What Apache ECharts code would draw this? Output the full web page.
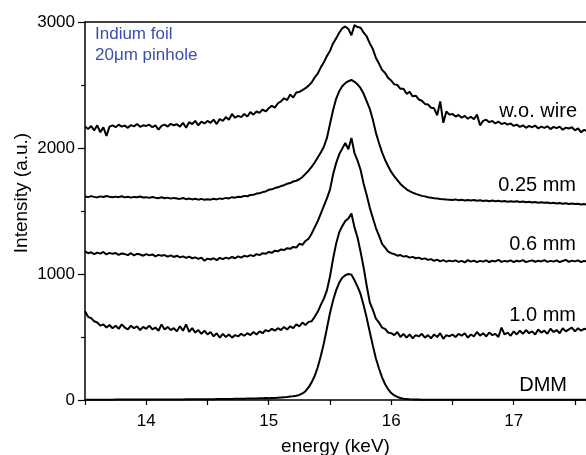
<!DOCTYPE html>
<html><head><meta charset="utf-8">
<script src="https://cdn.jsdelivr.net/npm/echarts@6/dist/echarts.min.js"></script>
<style>html,body{margin:0;padding:0;background:#fff}#c{width:586px;height:455px}</style>
</head><body><div id="c"></div>
<script>
const energy = [
13.5,13.525,13.55,13.575,13.6,13.625,13.65,13.675,13.7,13.725,
13.75,13.775,13.8,13.825,13.85,13.875,13.9,13.925,13.95,13.975,
14,14.025,14.05,14.075,14.1,14.125,14.15,14.175,14.2,14.225,
14.25,14.275,14.3,14.325,14.35,14.375,14.4,14.425,14.45,14.475,
14.5,14.525,14.55,14.575,14.6,14.625,14.65,14.675,14.7,14.725,
14.75,14.775,14.8,14.825,14.85,14.875,14.9,14.925,14.95,14.975,
15,15.025,15.05,15.075,15.1,15.125,15.15,15.175,15.2,15.225,
15.25,15.275,15.3,15.325,15.35,15.375,15.4,15.425,15.45,15.475,
15.5,15.525,15.55,15.575,15.6,15.625,15.65,15.675,15.7,15.725,
15.75,15.775,15.8,15.825,15.85,15.875,15.9,15.925,15.95,15.975,
16,16.025,16.05,16.075,16.1,16.125,16.15,16.175,16.2,16.225,
16.25,16.275,16.3,16.325,16.35,16.375,16.4,16.425,16.45,16.475,
16.5,16.525,16.55,16.575,16.6,16.625,16.65,16.675,16.7,16.725,
16.75,16.775,16.8,16.825,16.85,16.875,16.9,16.925,16.95,16.975,
17,17.025,17.05,17.075,17.1,17.125,17.15,17.175,17.2,17.225,
17.25,17.275,17.3,17.325,17.35,17.375,17.4,17.425,17.45,17.475,
17.5,17.525,17.55,17.575,17.6];

const woWire = [
2170,2150,2175,2140,2180,2125,2165,2095,2170,2180,
2165,2185,2170,2178,2160,2182,2172,2190,2168,2180,
2175,2185,2165,2180,2145,2175,2185,2170,2192,2180,
2188,2170,2200,2160,2205,2190,2215,2180,2210,2195,
2215,2200,2225,2190,2230,2215,2245,2225,2270,2240,
2255,2245,2270,2250,2285,2265,2290,2280,2305,2290,
2315,2335,2320,2355,2370,2395,2380,2425,2400,2440,
2445,2460,2475,2495,2520,2560,2590,2640,2680,2730,
2770,2830,2870,2915,2950,2965,2945,2895,2975,2960,
2955,2915,2885,2830,2785,2715,2670,2620,2595,2555,
2535,2505,2500,2470,2470,2430,2445,2410,2415,2385,
2375,2350,2345,2320,2315,2260,2370,2200,2290,2265,
2270,2250,2262,2240,2255,2232,2248,2228,2265,2180,
2215,2225,2205,2215,2195,2210,2190,2200,2185,2195,
2175,2185,2168,2180,2160,2175,2165,2178,2155,2170,
2160,2172,2150,2168,2158,2170,2145,2162,2155,2165,
2140,2155,2125,2145,2130];

const mm025 = [
1615,1610,1618,1612,1608,1616,1611,1619,1613,1609,
1614,1610,1617,1608,1613,1606,1612,1609,1615,1607,
1610,1604,1611,1606,1602,1609,1601,1606,1598,1604,
1600,1596,1603,1594,1599,1592,1597,1590,1596,1589,
1594,1590,1597,1592,1600,1596,1604,1600,1610,1606,
1613,1611,1620,1617,1627,1628,1638,1640,1650,1655,
1668,1672,1682,1688,1698,1705,1716,1722,1734,1740,
1752,1770,1795,1820,1850,1885,1925,1965,2010,2080,
2190,2300,2390,2450,2490,2515,2530,2540,2525,2505,
2475,2430,2370,2310,2225,2120,2040,1965,1905,1855,
1810,1775,1745,1715,1692,1672,1658,1646,1636,1628,
1620,1616,1609,1606,1601,1599,1595,1594,1591,1590,
1588,1592,1585,1589,1583,1587,1584,1588,1582,1586,
1580,1584,1578,1583,1577,1581,1576,1580,1574,1578,
1573,1577,1571,1575,1569,1573,1567,1572,1566,1570,
1565,1568,1562,1566,1560,1564,1558,1562,1556,1560,
1555,1558,1552,1555,1550];

const mm06 = [
1180,1165,1172,1158,1170,1162,1175,1155,1168,1160,
1166,1152,1163,1158,1150,1165,1148,1160,1155,1145,
1158,1148,1155,1140,1152,1145,1150,1138,1148,1135,
1145,1132,1140,1128,1138,1125,1132,1120,1130,1105,
1122,1115,1125,1110,1128,1118,1130,1122,1135,1125,
1140,1130,1145,1138,1150,1142,1158,1150,1165,1160,
1175,1168,1185,1180,1195,1190,1205,1200,1215,1210,
1240,1232,1262,1280,1320,1370,1420,1480,1540,1600,
1670,1790,1880,1950,1995,2040,1990,2080,1960,1900,
1825,1715,1625,1525,1445,1365,1305,1240,1210,1178,
1165,1158,1145,1150,1138,1142,1130,1136,1125,1130,
1118,1124,1112,1118,1105,1114,1100,1110,1098,1106,
1100,1108,1096,1104,1092,1110,1098,1106,1094,1104,
1098,1108,1095,1105,1100,1112,1096,1104,1099,1108,
1095,1105,1100,1110,1094,1102,1108,1097,1105,1100,
1110,1096,1104,1098,1108,1095,1103,1112,1097,1106,
1100,1108,1095,1104,1100];

const mm10 = [
705,660,650,625,615,590,600,575,595,570,
590,565,600,575,560,590,570,585,555,580,
565,590,560,575,550,600,560,580,555,570,
545,585,550,600,540,570,535,555,525,550,
520,540,505,530,495,525,500,520,495,515,
505,525,510,530,515,540,520,545,530,555,
545,565,550,570,555,580,560,585,570,600,
585,615,595,620,625,660,700,755,805,870,
980,1120,1240,1330,1380,1420,1440,1480,1370,1290,
1175,1050,905,775,715,645,615,575,565,535,
530,515,540,500,525,495,520,490,515,505,
525,495,515,490,520,500,530,485,515,505,
520,500,525,510,530,495,520,505,540,510,
530,505,535,515,525,500,575,520,535,510,
545,520,550,525,555,530,545,520,560,535,
550,525,565,540,555,530,570,545,560,575,
545,570,550,565,560];

const dmm = [
2,2,2,2,2,2,2,2,2,2,
3,3,3,3,3,3,3,3,3,3,
3,3,3,3,4,4,4,4,4,4,
4,4,4,5,5,5,5,5,5,6,
6,6,6,7,7,7,8,8,8,9,
9,10,10,11,11,12,12,13,14,15,
14,15,16,18,20,22,24,27,30,34,
40,52,70,100,140,190,260,350,450,570,
690,790,870,930,970,990,1000,995,950,900,
840,750,650,540,430,330,250,180,125,85,
55,37,24,16,10,7,5,4,3,3,
2,2,2,2,2,2,2,2,2,2,
2,2,2,2,2,2,2,2,2,2,
1,1,1,1,1,1,1,1,1,1,
1,1,1,1,1,1,1,1,1,1,
1,1,1,1,1,1,1,1,1,1,
1,1,1,1,1];

const seriesNames = ['w.o. wire','0.25 mm','0.6 mm','1.0 mm','DMM'];
const seriesValues = [woWire, mm025, mm06, mm10, dmm];
const xTitle = 'energy (keV)';
const yTitle = 'Intensity (a.u.)';
const noteLines = ['Indium foil', '20\u03bcm pinhole'];

const FONT = '"Liberation Sans", Arial, Helvetica, sans-serif';
const chart = echarts.init(document.getElementById('c'), null, {renderer: 'canvas'});

const labelPos = [[577,111],[576,185],[576,244],[576,315],[567,385]];

const option = {
  animation: false,
  backgroundColor: '#fff',
  textStyle: {fontFamily: FONT},
  grid: {left: 85, right: 0, top: 22, bottom: 55, containLabel: false, outerBoundsMode: 'none'},
  xAxis: [{
    type: 'value', min: 13.5, max: 17.59, interval: 0.5,
    axisLine: {show: true, lineStyle: {color: '#000', width: 1.5}},
    axisTick: {show: true, length: 5, lineStyle: {color: '#000', width: 1.2}},
    axisLabel: {
      color: '#000', fontSize: 17, fontFamily: FONT, margin: 13,
      formatter: v => (Math.abs(v - Math.round(v)) < 1e-6 ? String(Math.round(v)) : '')
    },
    splitLine: {show: false},
    name: xTitle, nameLocation: 'middle', nameGap: 37,
    nameTextStyle: {color: '#000', fontSize: 19, fontFamily: FONT}
  }, {
    type: 'value', position: 'top', min: 13.5, max: 17.59,
    axisLine: {show: true, lineStyle: {color: '#000', width: 1.5}},
    axisTick: {show: false}, axisLabel: {show: false}, splitLine: {show: false}
  }],
  yAxis: {
    type: 'value', min: 0, max: 3000, interval: 1000,
    axisLine: {show: true, lineStyle: {color: '#000', width: 1.5}},
    axisTick: {show: true, length: 7, lineStyle: {color: '#000', width: 1.2}},
    minorTick: {show: true, splitNumber: 2, length: 4, lineStyle: {color: '#000', width: 1.2}},
    axisLabel: {color: '#000', fontSize: 17, fontFamily: FONT, margin: 10, formatter: v => String(v)},
    splitLine: {show: false}, minorSplitLine: {show: false}
  },
  series: seriesValues.map((vals, k) => ({
    name: seriesNames[k], type: 'line', xAxisIndex: 0,
    data: energy.map((e, i) => [e, vals[i]]),
    showSymbol: false, symbol: 'none', smooth: false,
    lineStyle: {color: '#000', width: 2}
  })),
  graphic: [
    ...seriesNames.map((n, k) => ({
      type: 'text', x: labelPos[k][0], y: labelPos[k][1],
      style: {text: n, fill: '#000', font: '20px ' + FONT, textAlign: 'right', textVerticalAlign: 'middle'}
    })),
    {type: 'text', x: 95, y: 34, style: {text: noteLines[0], fill: '#3c4fa8', font: '17px ' + FONT, textAlign: 'left', textVerticalAlign: 'middle'}},
    {type: 'text', x: 95, y: 55, style: {text: noteLines[1], fill: '#3c4fa8', font: '17px ' + FONT, textAlign: 'left', textVerticalAlign: 'middle'}},
    {type: 'text', x: 22, y: 193, rotation: Math.PI / 2,
     style: {text: yTitle, fill: '#000', font: '19px ' + FONT, textAlign: 'center', textVerticalAlign: 'middle'}}
  ]
};
chart.setOption(option);
</script>
</body></html>
